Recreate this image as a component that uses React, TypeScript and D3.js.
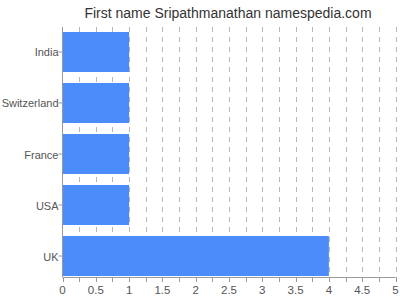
import React from "react";
import * as d3 from "d3";

const categories = ["India", "Switzerland", "France", "USA", "UK"];
const values = [1, 1, 1, 1, 4];
const tickLabels = ["0", "0.5", "1", "1.5", "2", "2.5", "3", "3.5", "4", "4.5", "5"];
const title = "First name Sripathmanathan namespedia.com";

export default function App() {
  const width = 400;
  const height = 300;
  const x = d3.scaleLinear().domain([0, 5]).range([62.5, 395.5]);
  const y = d3.scaleBand<string>().domain(categories).range([32, 276]).paddingInner(0.2157).paddingOuter(0);
  const gridTop = 27;
  const axisY = 277;
  const minor = d3.range(0, 5.001, 0.25);
  const font = "Arial, 'Liberation Sans', sans-serif";
  return (
    <svg width={width} height={height} style={{ position: "absolute", left: 0, top: 0 }} fontFamily={font}>
      <rect width={width} height={height} fill="#fff" />
      <text x={228} y={18} textAnchor="middle" fontSize={14} fill="#333">{title}</text>
      {minor.filter((v) => v > 0).map((v) => (
        <line key={"g" + v} x1={Math.round(x(v)) + 0.5} x2={Math.round(x(v)) + 0.5} y1={gridTop} y2={axisY} stroke="#b8b8b8" strokeDasharray="5,5" />
      ))}
      {categories.map((c, i) => (
        <rect key={c} x={x(0)} y={y(c)} width={x(values[i]) - x(0)} height={y.bandwidth()} fill="#4b8bfa" />
      ))}
      <line x1={x(0)} x2={x(0)} y1={gridTop} y2={axisY} stroke="#999" />
      <line x1={x(0)} x2={x(5)} y1={axisY + 0.5} y2={axisY + 0.5} stroke="#999" />
      {minor.map((v) => (
        <line key={"t" + v} x1={Math.round(x(v)) + 0.5} x2={Math.round(x(v)) + 0.5} y1={axisY} y2={axisY + 5} stroke="#999" />
      ))}
      {tickLabels.map((t) => (
        <text key={t} x={x(+t)} y={294} textAnchor="middle" fontSize={11.5} fill="#555">{t}</text>
      ))}
      {categories.map((c) => {
        const cy = (y(c) as number) + y.bandwidth() / 2;
        return (
          <g key={"l" + c}>
            <line x1={x(0) - 4} x2={x(0)} y1={cy} y2={cy} stroke="#999" />
            <text x={x(0) - 4} y={cy + 4.5} textAnchor="end" fontSize={11} fill="#555">{c}</text>
          </g>
        );
      })}
    </svg>
  );
}
